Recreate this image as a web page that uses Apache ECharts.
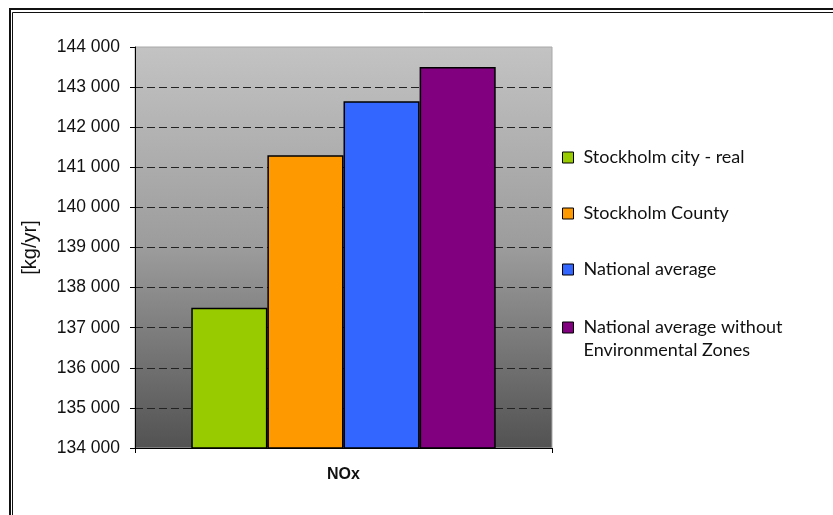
<!DOCTYPE html>
<html>
<head>
<meta charset="utf-8">
<style>
  html, body { margin: 0; padding: 0; background: #fff; }
  #chart { width: 833px; height: 515px; }
</style>
<script src="https://cdn.jsdelivr.net/npm/echarts@6/dist/echarts.min.js"></script>
</head>
<body>
<div id="chart"></div>
<script>
// NOx emissions per scenario, kg per year
const categories = ['NOx'];
const seriesNames = [
  'Stockholm city - real',
  'Stockholm County',
  'National average',
  'National average without Environmental Zones'
];
const seriesValues = [
  [137500],
  [141300],
  [142650],
  [143500]
];
const seriesColors = ['#99cc00', '#ff9900', '#3366ff', '#800080'];
const yMin = 134000;
const yMax = 144000;
const yStep = 1000;

const fmtThousands = v => String(v).replace(/\B(?=(\d{3})+(?!\d))/g, ' ');

const chart = echarts.init(document.getElementById('chart'), null, { renderer: 'canvas' });

const legendText = {
  fontFamily: 'Lato, "Noto Sans", sans-serif',
  fontSize: 18,
  lineHeight: 23,
  color: '#111',
  padding: [0, 0, 0, 5]
};

const option = {
  backgroundColor: '#fff',
  animation: false,
  graphic: [
    // double frame around the chart
    { type: 'rect', shape: { x: 10, y: 9, width: 900, height: 600 },
      style: { fill: 'none', stroke: '#111', lineWidth: 2 }, silent: true },
    { type: 'rect', shape: { x: 12.5, y: 12.5, width: 900, height: 600 },
      style: { fill: 'none', stroke: '#111', lineWidth: 1 }, silent: true }
  ],
  grid: {
    left: 135, right: 281, top: 47, bottom: 67,
    show: true,
    borderColor: '#a8a8a8',
    borderWidth: 1,
    backgroundColor: new echarts.graphic.LinearGradient(0, 0, 0, 1, [
      { offset: 0, color: '#c3c3c3' },
      { offset: 0.5, color: '#9c9c9c' },
      { offset: 1, color: '#525252' }
    ])
  },
  legend: [
    {
      orient: 'vertical',
      left: 562, top: 146,
      padding: 0,
      itemWidth: 11, itemHeight: 11,
      itemGap: 33,
      icon: 'rect',
      textStyle: legendText,
      itemStyle: { borderColor: '#000', borderWidth: 1 },
      data: seriesNames.slice(0, 3)
    },
    {
      // two-line entry: a leading blank line keeps the marker beside the first line
      orient: 'vertical',
      left: 562, top: 293,
      padding: 0,
      itemWidth: 11, itemHeight: 11,
      icon: 'rect',
      textStyle: legendText,
      itemStyle: { borderColor: '#000', borderWidth: 1 },
      formatter: name => '\n' + name.replace(' Environmental', '\nEnvironmental'),
      data: seriesNames.slice(3)
    }
  ],
  xAxis: {
    type: 'category',
    data: categories,
    axisLine: { show: true, lineStyle: { color: '#000', width: 1 } },
    axisTick: { show: true, length: 5, lineStyle: { color: '#000' } },
    axisLabel: {
      margin: 19,
      fontFamily: '"Liberation Sans", Arial, sans-serif',
      fontSize: 16,
      fontWeight: 'bold',
      color: '#111'
    },
    splitLine: { show: false }
  },
  yAxis: {
    type: 'value',
    min: yMin, max: yMax, interval: yStep,
    name: '[kg/yr]',
    nameLocation: 'middle',
    nameRotate: 90,
    nameGap: 95,
    nameTextStyle: {
      fontFamily: '"Liberation Sans", Arial, sans-serif',
      fontSize: 20,
      color: '#111'
    },
    axisLine: { show: true, lineStyle: { color: '#000', width: 1 } },
    axisTick: { show: true, length: 5, lineStyle: { color: '#000' } },
    axisLabel: {
      margin: 15,
      fontFamily: '"Liberation Sans", Arial, sans-serif',
      fontSize: 17.5,
      color: '#111',
      formatter: v => fmtThousands(v)
    },
    splitLine: {
      show: true,
      showMinLine: false,
      showMaxLine: false,
      lineStyle: { color: '#222', width: 1, type: [8, 4] }
    }
  },
  series: seriesNames.map((name, i) => ({
    name,
    type: 'bar',
    data: seriesValues[i],
    barGap: '0%',
    barCategoryGap: '27%',
    itemStyle: { color: seriesColors[i], borderColor: '#000', borderWidth: 1.5 }
  }))
};

chart.setOption(option);
</script>
</body>
</html>
